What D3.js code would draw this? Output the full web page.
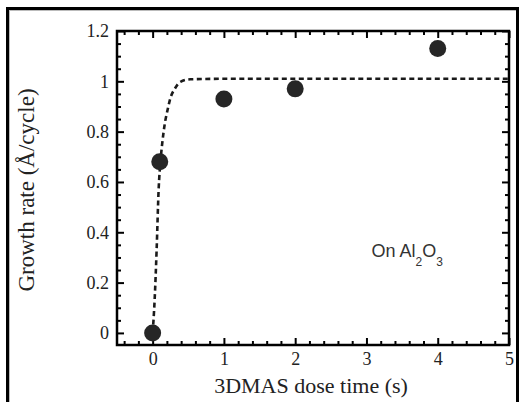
<!DOCTYPE html>
<html>
<head>
<meta charset="utf-8">
<script src="https://cdn.jsdelivr.net/npm/d3@7"></script>
<style>
  html, body { margin: 0; padding: 0; background: #fff; }
  svg { display: block; }
</style>
</head>
<body>
<svg id="chart"></svg>
<script>
  // measured points
  var doseTime = [0, 0.1, 1, 2, 4];
  var growthRate = [0, 0.68, 0.93, 0.97, 1.13];

  // dashed fit line
  var fitTime = [0, 0.028, 0.056, 0.084, 0.112, 0.14, 0.168, 0.21, 0.25, 0.31, 0.39, 0.53, 1, 2, 3, 4, 5];
  var fitRate = [0, 0.131, 0.33, 0.569, 0.688, 0.767, 0.827, 0.887, 0.934, 0.970, 0.998, 1.008, 1.01, 1.01, 1.01, 1.01, 1.01];

  var xTicks = [0, 1, 2, 3, 4, 5];
  var yTicks = [0, 0.2, 0.4, 0.6, 0.8, 1, 1.2];
  var yTickLabels = ["0", "0.2", "0.4", "0.6", "0.8", "1", "1.2"];

  var svgWidth = 523, svgHeight = 402;
  var margin = { top: 31, right: 14, bottom: 57, left: 117 };
  var width = svgWidth - margin.left - margin.right;
  var height = svgHeight - margin.top - margin.bottom;

  var serif = '"Liberation Serif", "Times New Roman", "DejaVu Serif", serif';

  var svg = d3.select("#chart")
      .attr("width", svgWidth)
      .attr("height", svgHeight);

  // outer frame of the figure
  svg.append("rect")
      .attr("x", 9.5).attr("y", 10.5)
      .attr("width", 507).attr("height", 400)
      .attr("fill", "none")
      .attr("stroke", "#bbb")
      .attr("stroke-width", 1);
  svg.append("rect")
      .attr("x", 7.5).attr("y", 8.5)
      .attr("width", 510).attr("height", 410)
      .attr("fill", "none")
      .attr("stroke", "#000")
      .attr("stroke-width", 3);

  var g = svg.append("g")
      .attr("transform", "translate(" + margin.left + "," + margin.top + ")");

  var x = d3.scaleLinear().domain([-0.5, 5]).range([0, width]);
  var y = d3.scaleLinear().domain([-0.048, 1.2]).range([height, 0]);

  var xMinor = d3.range(-2, 26).map(function(d) { return +(d * 0.2).toFixed(2); })
      .filter(function(d) { return xTicks.indexOf(d) < 0; });
  var yMinor = d3.range(0, 25).map(function(d) { return +(d * 0.05).toFixed(2); })
      .filter(function(d) { return yTicks.indexOf(d) < 0; });

  function styleAxis(sel) {
    sel.attr("font-family", serif).attr("font-size", 18);
    sel.select(".domain").remove();
    sel.selectAll(".tick line").attr("stroke", "#000").attr("stroke-width", 2);
    sel.selectAll("text")
      .attr("fill", "#222")
      .attr("font-family", serif)
      .attr("font-size", 18);
  }

  // bottom axis with labels, ticks pointing inward
  g.append("g")
      .attr("transform", "translate(0," + height + ")")
      .call(d3.axisBottom(x).tickValues(xTicks).tickSize(-7).tickPadding(7)
        .tickFormat(function(d) { return d; }))
      .call(styleAxis);
  g.append("g")
      .attr("transform", "translate(0," + height + ")")
      .call(d3.axisBottom(x).tickValues(xMinor).tickSize(-4).tickFormat(""))
      .call(styleAxis);
  // top axis
  g.append("g")
      .call(d3.axisTop(x).tickValues(xTicks).tickSize(-7).tickFormat(""))
      .call(styleAxis);
  g.append("g")
      .call(d3.axisTop(x).tickValues(xMinor).tickSize(-4).tickFormat(""))
      .call(styleAxis);

  // left axis with labels
  g.append("g")
      .call(d3.axisLeft(y).tickValues(yTicks).tickSize(-7).tickPadding(8)
        .tickFormat(function(d, i) { return yTickLabels[i]; }))
      .call(styleAxis);
  g.append("g")
      .call(d3.axisLeft(y).tickValues(yMinor).tickSize(-4).tickFormat(""))
      .call(styleAxis);
  // right axis
  g.append("g")
      .attr("transform", "translate(" + width + ",0)")
      .call(d3.axisRight(y).tickValues(yTicks).tickSize(-7).tickFormat(""))
      .call(styleAxis);
  g.append("g")
      .attr("transform", "translate(" + width + ",0)")
      .call(d3.axisRight(y).tickValues(yMinor).tickSize(-4).tickFormat(""))
      .call(styleAxis);

  // plot box
  g.append("rect")
      .attr("width", width).attr("height", height)
      .attr("fill", "none")
      .attr("stroke", "#000")
      .attr("stroke-width", 2.5);

  // fit line
  var fitData = fitTime.map(function(t, i) { return { t: t, v: fitRate[i] }; });
  var line = d3.line()
      .x(function(d) { return x(d.t); })
      .y(function(d) { return y(d.v); })
      .curve(d3.curveMonotoneX);
  g.append("path")
      .datum(fitData)
      .attr("fill", "none")
      .attr("stroke", "#1a1a1a")
      .attr("stroke-width", 2.6)
      .attr("stroke-dasharray", "5,3.5")
      .attr("d", line);

  // points
  g.selectAll("circle.pt")
      .data(doseTime)
      .enter().append("circle")
      .attr("class", "pt")
      .attr("cx", function(d) { return x(d); })
      .attr("cy", function(d, i) { return y(growthRate[i]); })
      .attr("r", 8.5)
      .attr("fill", "#262626");

  // annotation
  var note = g.append("text")
      .attr("x", x(3.07))
      .attr("y", y(0.3))
      .attr("fill", "#333")
      .attr("font-family", '"Liberation Sans", Arial, sans-serif')
      .attr("font-size", 18);
  note.append("tspan").text("On Al");
  note.append("tspan").attr("dy", 9).attr("font-size", 12).text("2");
  note.append("tspan").attr("dy", -9).text("O");
  note.append("tspan").attr("dy", 9).attr("font-size", 12).text("3");

  // axis titles
  svg.append("text")
      .attr("x", margin.left + width / 2 - 2)
      .attr("y", 393)
      .attr("text-anchor", "middle")
      .attr("fill", "#222")
      .attr("font-family", serif)
      .attr("font-size", 22)
      .text("3DMAS dose time (s)");

  svg.append("text")
      .attr("transform", "translate(34,190) rotate(-90)")
      .attr("text-anchor", "middle")
      .attr("fill", "#222")
      .attr("font-family", serif)
      .attr("font-size", 23)
      .text("Growth rate (Å/cycle)");
</script>
</body>
</html>
